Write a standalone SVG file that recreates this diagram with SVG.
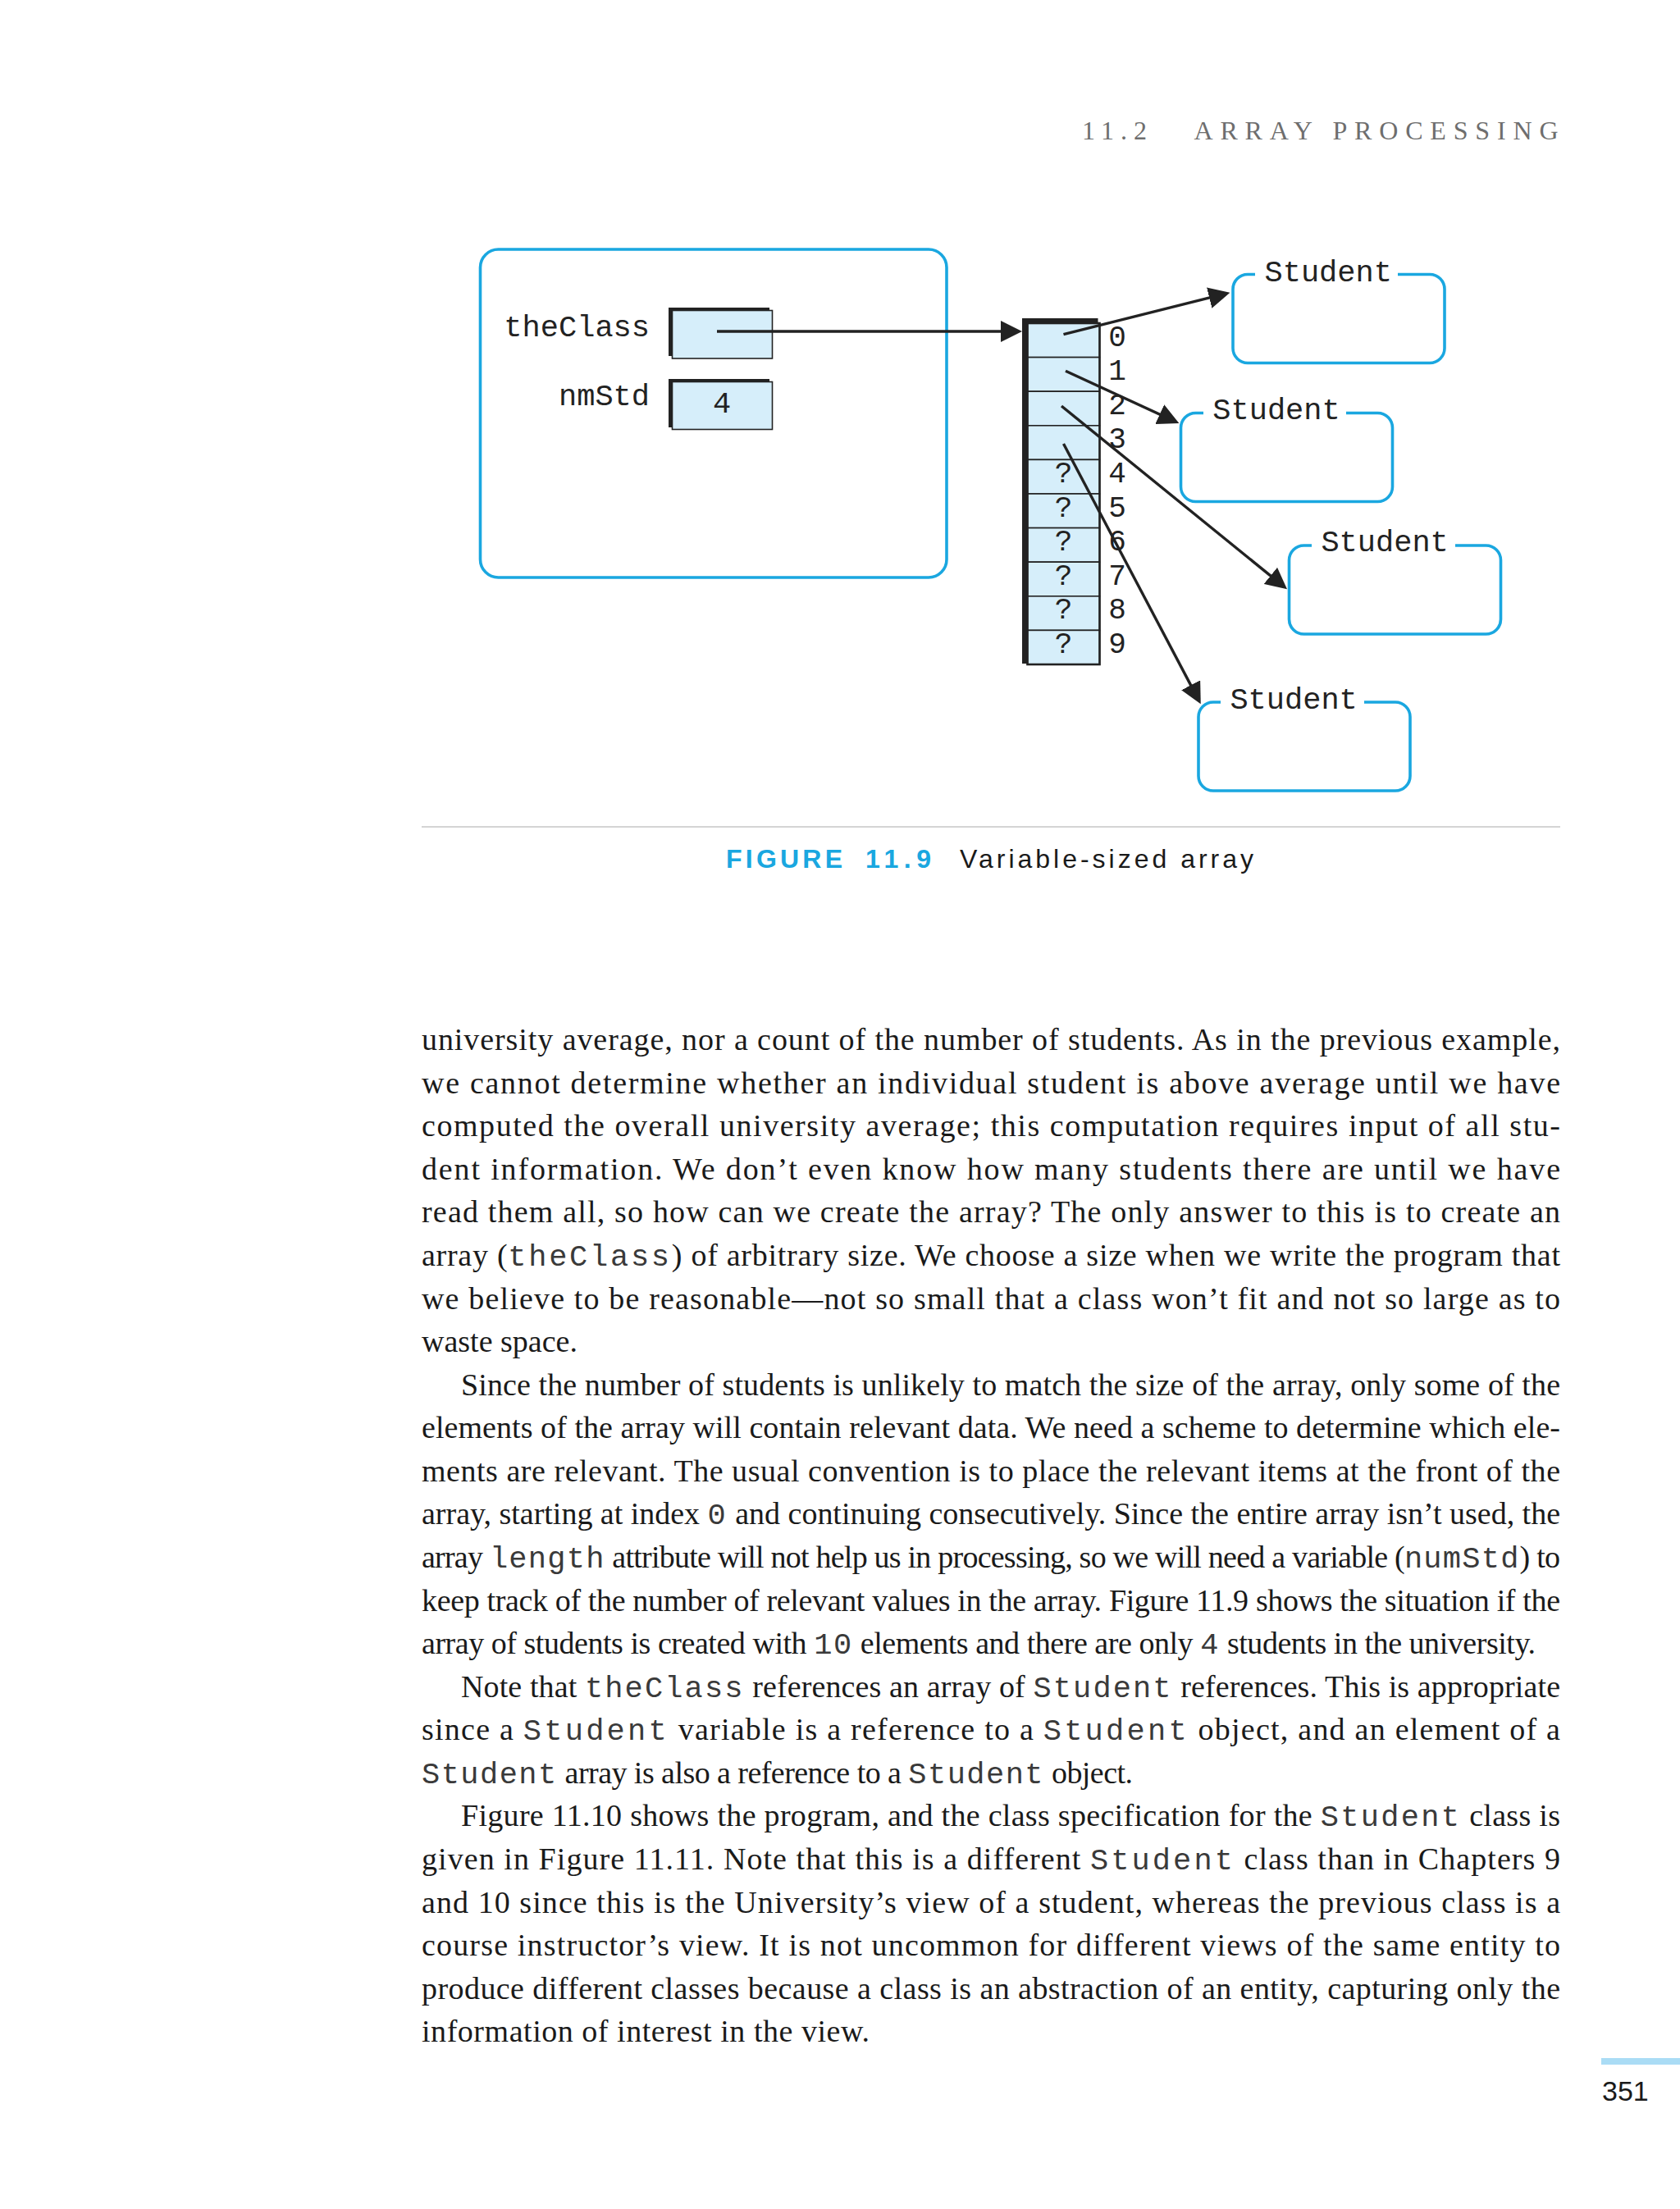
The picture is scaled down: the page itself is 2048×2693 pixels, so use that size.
<svg xmlns="http://www.w3.org/2000/svg" width="2048" height="2693" viewBox="0 0 2048 2693">
<style>
.mono{font-family:"Liberation Mono","DejaVu Sans Mono",monospace;font-size:37px;fill:#222}
.idx{font-family:"Liberation Mono","DejaVu Sans Mono",monospace;font-size:36px;fill:#222;text-anchor:middle}
.blue{fill:none;stroke:#1aa7e0;stroke-width:3.6}
.cell{fill:#d6eefa;stroke:#222;stroke-width:1.6}
.shadow{fill:#222}
.conn{stroke:#222;stroke-width:3.4;fill:none}
.body{font-family:"Liberation Serif","Times New Roman",serif;font-size:38px;fill:#1a1a1a}
.m{font-family:"Liberation Mono","DejaVu Sans Mono",monospace;font-size:37px;fill:#3a3a3a;letter-spacing:2px}
.hdr{font-family:"Liberation Serif","Times New Roman",serif;font-size:32px;fill:#6e6e6e}
.cap{font-family:"Liberation Sans",Arial,sans-serif;font-size:32px}
</style>
<defs>
<marker id="ah" viewBox="0 0 26 26" refX="19" refY="13" markerWidth="26" markerHeight="26" markerUnits="userSpaceOnUse" orient="auto">
<path d="M0,0 L26,13 L0,26 Z" fill="#222"/>
</marker>
</defs>
<rect x="0" y="0" width="2048" height="2693" fill="#ffffff"/>

<g id="header">
<text class="hdr" x="1319" y="170" textLength="79" lengthAdjust="spacing">11.2</text>
<text class="hdr" x="1455.5" y="170" textLength="444" lengthAdjust="spacing">ARRAY PROCESSING</text>
</g>

<g id="frame">
<rect class="blue" x="585.5" y="304" width="568.5" height="400" rx="22"/>
</g>

<g id="var-theClass">
<text class="mono" x="792" y="410" text-anchor="end">theClass</text>
<rect class="shadow" x="815" y="375" width="123" height="59"/>
<rect class="cell" x="819.5" y="378.5" width="122" height="58.5"/>
</g>

<g id="var-nmStd">
<text class="mono" x="792" y="494" text-anchor="end">nmStd</text>
<rect class="shadow" x="815" y="462" width="123" height="59"/>
<rect class="cell" x="819.5" y="465.5" width="122" height="58"/>
<text class="mono" x="880" y="503" text-anchor="middle">4</text>
</g>

<g id="array">
<rect class="shadow" x="1246" y="388" width="92.5" height="421"/>
<rect class="cell" x="1252.5" y="394" width="88" height="41.6"/>
<rect class="cell" x="1252.5" y="435.6" width="88" height="41.6"/>
<rect class="cell" x="1252.5" y="477.2" width="88" height="41.6"/>
<rect class="cell" x="1252.5" y="518.8" width="88" height="41.6"/>
<rect class="cell" x="1252.5" y="560.4" width="88" height="41.6"/>
<rect class="cell" x="1252.5" y="602" width="88" height="41.6"/>
<rect class="cell" x="1252.5" y="643.6" width="88" height="41.6"/>
<rect class="cell" x="1252.5" y="685.2" width="88" height="41.6"/>
<rect class="cell" x="1252.5" y="726.8" width="88" height="41.6"/>
<rect class="cell" x="1252.5" y="768.4" width="88" height="41.6"/>
<rect x="1252.5" y="394" width="88" height="416" fill="none" stroke="#222" stroke-width="2.6"/>
<text class="idx" x="1296.5" y="588">?</text>
<text class="idx" x="1296.5" y="629.6">?</text>
<text class="idx" x="1296.5" y="671.2">?</text>
<text class="idx" x="1296.5" y="712.8">?</text>
<text class="idx" x="1296.5" y="754.4">?</text>
<text class="idx" x="1296.5" y="796">?</text>
<text class="idx" x="1362" y="421.6">0</text>
<text class="idx" x="1362" y="463.2">1</text>
<text class="idx" x="1362" y="504.8">2</text>
<text class="idx" x="1362" y="546.4">3</text>
<text class="idx" x="1362" y="588">4</text>
<text class="idx" x="1362" y="629.6">5</text>
<text class="idx" x="1362" y="671.2">6</text>
<text class="idx" x="1362" y="712.8">7</text>
<text class="idx" x="1362" y="754.4">8</text>
<text class="idx" x="1362" y="796">9</text>
</g>

<g id="student-0">
<path class="blue" d="M1704,334.5 H1743 A18,18 0 0 1 1761,352.5 V424.5 A18,18 0 0 1 1743,442.5 H1521 A18,18 0 0 1 1503,424.5 V352.5 A18,18 0 0 1 1521,334.5 H1530"/>
<text class="mono" x="1541.5" y="343">Student</text>
</g>
<g id="student-1">
<path class="blue" d="M1641,503.5 H1679.5 A18,18 0 0 1 1697.5,521.5 V593.5 A18,18 0 0 1 1679.5,611.5 H1457.5 A18,18 0 0 1 1439.5,593.5 V521.5 A18,18 0 0 1 1457.5,503.5 H1467"/>
<text class="mono" x="1478.3" y="511">Student</text>
</g>
<g id="student-2">
<path class="blue" d="M1774,665 H1811.5 A18,18 0 0 1 1829.5,683 V755 A18,18 0 0 1 1811.5,773 H1589.5 A18,18 0 0 1 1571.5,755 V683 A18,18 0 0 1 1589.5,665 H1599"/>
<text class="mono" x="1610.4" y="672">Student</text>
</g>
<g id="student-3">
<path class="blue" d="M1663,856 H1701 A18,18 0 0 1 1719,874 V946 A18,18 0 0 1 1701,964 H1479 A18,18 0 0 1 1461,946 V874 A18,18 0 0 1 1479,856 H1488"/>
<text class="mono" x="1499.4" y="863.5">Student</text>
</g>

<g id="connectors">
<line class="conn" x1="874" y1="404" x2="1239" y2="404" marker-end="url(#ah)"/>
<line class="conn" x1="1296.5" y1="407.7" x2="1492.6" y2="358.4" marker-end="url(#ah)"/>
<line class="conn" x1="1299" y1="452.3" x2="1431" y2="513.1" marker-end="url(#ah)"/>
<line class="conn" x1="1294" y1="495" x2="1563.6" y2="713.9" marker-end="url(#ah)"/>
<line class="conn" x1="1296.5" y1="541" x2="1460.5" y2="852.1" marker-end="url(#ah)"/>
</g>

<g id="caption">
<line x1="514" y1="1008" x2="1902" y2="1008" stroke="#d4d4d4" stroke-width="2"/>
<text class="cap" x="885" y="1057.5" fill="#1aa7e0" font-weight="bold" textLength="142" lengthAdjust="spacing">FIGURE</text>
<text class="cap" x="1055" y="1057.5" fill="#1aa7e0" font-weight="bold" textLength="80" lengthAdjust="spacing">11.9</text>
<text class="cap" x="1170" y="1057.5" fill="#1a1a1a" textLength="358" lengthAdjust="spacing">Variable-sized array</text>
</g>

<g id="body">
<text class="body" x="514" y="1280" textLength="1388" lengthAdjust="spacing">university average, nor a count of the number of students. As in the previous example,</text>
<text class="body" x="514" y="1332.6" textLength="1388" lengthAdjust="spacing">we cannot determine whether an individual student is above average until we have</text>
<text class="body" x="514" y="1385.2" textLength="1388" lengthAdjust="spacing">computed the overall university average; this computation requires input of all stu-</text>
<text class="body" x="514" y="1437.7" textLength="1388" lengthAdjust="spacing">dent information. We don’t even know how many students there are until we have</text>
<text class="body" x="514" y="1490.3" textLength="1388" lengthAdjust="spacing">read them all, so how can we create the array? The only answer to this is to create an</text>
<text class="body" x="514" y="1542.9" textLength="1388" lengthAdjust="spacing">array (<tspan class="m">theClass</tspan>) of arbitrary size. We choose a size when we write the program that</text>
<text class="body" x="514" y="1595.5" textLength="1388" lengthAdjust="spacing">we believe to be reasonable—not so small that a class won’t fit and not so large as to</text>
<text class="body" x="514" y="1648.1">waste space.</text>
<text class="body" x="562" y="1700.6" textLength="1340" lengthAdjust="spacing">Since the number of students is unlikely to match the size of the array, only some of the</text>
<text class="body" x="514" y="1753.2" textLength="1388" lengthAdjust="spacing">elements of the array will contain relevant data. We need a scheme to determine which ele-</text>
<text class="body" x="514" y="1805.8" textLength="1388" lengthAdjust="spacing">ments are relevant. The usual convention is to place the relevant items at the front of the</text>
<text class="body" x="514" y="1858.4" textLength="1388" lengthAdjust="spacing">array, starting at index <tspan class="m">0</tspan> and continuing consecutively. Since the entire array isn’t used, the</text>
<text class="body" x="514" y="1911" textLength="1388" lengthAdjust="spacing">array <tspan class="m">length</tspan> attribute will not help us in processing, so we will need a variable (<tspan class="m">numStd</tspan>) to</text>
<text class="body" x="514" y="1963.5" textLength="1388" lengthAdjust="spacing">keep track of the number of relevant values in the array. Figure 11.9 shows the situation if the</text>
<text class="body" x="514" y="2016.1" textLength="1358" lengthAdjust="spacing">array of students is created with <tspan class="m">10</tspan> elements and there are only <tspan class="m">4</tspan> students in the university.</text>
<text class="body" x="562" y="2068.7" textLength="1340" lengthAdjust="spacing">Note that <tspan class="m">theClass</tspan> references an array of <tspan class="m">Student</tspan> references. This is appropriate</text>
<text class="body" x="514" y="2121.3" textLength="1388" lengthAdjust="spacing">since a <tspan class="m">Student</tspan> variable is a reference to a <tspan class="m">Student</tspan> object, and an element of a</text>
<text class="body" x="514" y="2173.9" textLength="867" lengthAdjust="spacing"><tspan class="m">Student</tspan> array is also a reference to a <tspan class="m">Student</tspan> object.</text>
<text class="body" x="562" y="2226.4" textLength="1340" lengthAdjust="spacing">Figure 11.10 shows the program, and the class specification for the <tspan class="m">Student</tspan> class is</text>
<text class="body" x="514" y="2279" textLength="1388" lengthAdjust="spacing">given in Figure 11.11. Note that this is a different <tspan class="m">Student</tspan> class than in Chapters 9</text>
<text class="body" x="514" y="2331.6" textLength="1388" lengthAdjust="spacing">and 10 since this is the University’s view of a student, whereas the previous class is a</text>
<text class="body" x="514" y="2384.2" textLength="1388" lengthAdjust="spacing">course instructor’s view. It is not uncommon for different views of the same entity to</text>
<text class="body" x="514" y="2436.8" textLength="1388" lengthAdjust="spacing">produce different classes because a class is an abstraction of an entity, capturing only the</text>
<text class="body" x="514" y="2489.3" textLength="546" lengthAdjust="spacing">information of interest in the view.</text>
</g>

<g id="footer">
<rect x="1952" y="2509" width="96" height="8" fill="#aadcf5"/>
<text x="1953" y="2561" font-family="Liberation Sans, Arial, sans-serif" font-size="34" fill="#1a1a1a">351</text>
</g>
</svg>
